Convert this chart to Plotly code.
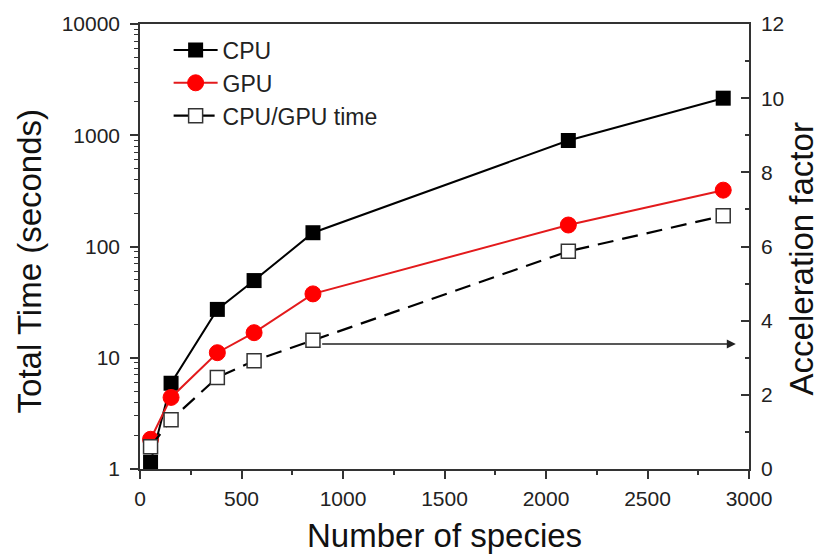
import plotly.graph_objects as go

# Number of chemical species in each mechanism
species = [52, 153, 381, 562, 852, 2110, 2873]

# Total run time in seconds
cpu_time = [1.15, 5.9, 27.2, 49.4, 133, 897, 2154]
gpu_time = [1.85, 4.4, 11.1, 16.8, 37.5, 156, 321]

# Acceleration factor (CPU time / GPU time)
speedup = [0.6, 1.33, 2.47, 2.92, 3.47, 5.87, 6.83]

x_ticks = [0, 500, 1000, 1500, 2000, 2500, 3000]
y_ticks = [1, 10, 100, 1000, 10000]
y_ticktext = ["1", "10", "100", "1000", "10000"]
y2_ticks = [0, 2, 4, 6, 8, 10, 12]

FONT = "Arial, Liberation Sans, sans-serif"
AXIS_COLOR = "#333333"

fig = go.Figure()

fig.add_trace(go.Scatter(
    x=species, y=cpu_time, name="CPU", mode="lines+markers",
    line=dict(color="black", width=2),
    marker=dict(symbol="square", size=15, color="black"),
    cliponaxis=False,
))
fig.add_trace(go.Scatter(
    x=species, y=gpu_time, name="GPU", mode="lines+markers",
    line=dict(color="#e31a1c", width=2),
    marker=dict(symbol="circle", size=16, color="#ff0000",
                line=dict(color="#ff0000", width=1)),
    cliponaxis=False,
))
fig.add_trace(go.Scatter(
    x=species, y=speedup, name="CPU/GPU time", mode="lines+markers",
    yaxis="y2",
    line=dict(color="black", width=2.2, dash="16px,9px"),
    marker=dict(symbol="square", size=14, color="white",
                line=dict(color="#333333", width=1.5)),
    cliponaxis=False,
))

minor_log = [m * 10 ** k for k in range(4) for m in range(2, 10)]

fig.update_layout(
    width=821, height=557,
    margin=dict(l=140, r=72, t=21, b=88),
    paper_bgcolor="white", plot_bgcolor="white",
    font=dict(family=FONT, color="#222222"),
    showlegend=True,
    legend=dict(
        x=0.047, y=0.99, xanchor="left", yanchor="top",
        bgcolor="rgba(0,0,0,0)", borderwidth=0,
        font=dict(size=23, family=FONT, color="#222222"),
        tracegroupgap=0, itemwidth=44,
    ),
    xaxis=dict(
        range=[0, 3000], tickmode="array", tickvals=x_ticks,
        showline=True, linecolor=AXIS_COLOR, linewidth=1.5, mirror=True,
        ticks="outside", ticklen=8, tickwidth=1.5, tickcolor=AXIS_COLOR,
        minor=dict(dtick=250, ticks="outside", ticklen=4, tickwidth=1.5,
                   tickcolor=AXIS_COLOR, showgrid=False),
        showgrid=False, zeroline=False,
        tickfont=dict(size=21, family=FONT, color="#222222"),
        ticklabelstandoff=2,
    ),
    yaxis=dict(
        type="log", range=[0, 4],
        tickmode="array", tickvals=y_ticks, ticktext=y_ticktext,
        showline=True, linecolor=AXIS_COLOR, linewidth=1.5,
        ticks="outside", ticklen=8, tickwidth=1.5, tickcolor=AXIS_COLOR,
        minor=dict(tickmode="array", tickvals=minor_log, ticks="outside",
                   ticklen=4, tickwidth=1.2, tickcolor=AXIS_COLOR,
                   showgrid=False),
        showgrid=False, zeroline=False,
        tickfont=dict(size=21, family=FONT, color="#222222"),
        ticklabelstandoff=6,
    ),
    yaxis2=dict(
        overlaying="y", side="right", range=[0, 12],
        tickmode="array", tickvals=y2_ticks,
        showline=True, linecolor=AXIS_COLOR, linewidth=1.5,
        ticks="inside", ticklen=8, tickwidth=1.5, tickcolor=AXIS_COLOR,
        minor=dict(dtick=1, ticks="inside", ticklen=4, tickwidth=1.5,
                   tickcolor=AXIS_COLOR, showgrid=False),
        showgrid=False, zeroline=False,
        tickfont=dict(size=21, family=FONT, color="#222222"),
        ticklabelstandoff=6,
    ),
)

# Horizontal arrow pointing from the CPU/GPU curve to its (right) axis
fig.add_annotation(
    xref="x", yref="y2", axref="x", ayref="y2",
    x=2935, y=3.37, ax=890, ay=3.37,
    showarrow=True, arrowhead=2, arrowsize=1.2, arrowwidth=1.5,
    arrowcolor="#222222", text="",
)

# Axis titles
fig.add_annotation(
    xref="paper", yref="paper", x=0.5, y=-0.15,
    xanchor="center", yanchor="middle", showarrow=False,
    text="Number of species", font=dict(size=33, family=FONT, color="#111111"),
)
fig.add_annotation(
    xref="paper", yref="paper", x=(29 - 140) / 609, y=(469 - 260) / 448,
    xanchor="center", yanchor="middle", showarrow=False, textangle=-90,
    text="Total Time (seconds)", font=dict(size=33, family=FONT, color="#111111"),
)
fig.add_annotation(
    xref="paper", yref="paper", x=(801 - 140) / 609, y=(469 - 257) / 448,
    xanchor="center", yanchor="middle", showarrow=False, textangle=-90,
    text="Acceleration factor", font=dict(size=33, family=FONT, color="#111111"),
)

fig.write_html("out.html")
